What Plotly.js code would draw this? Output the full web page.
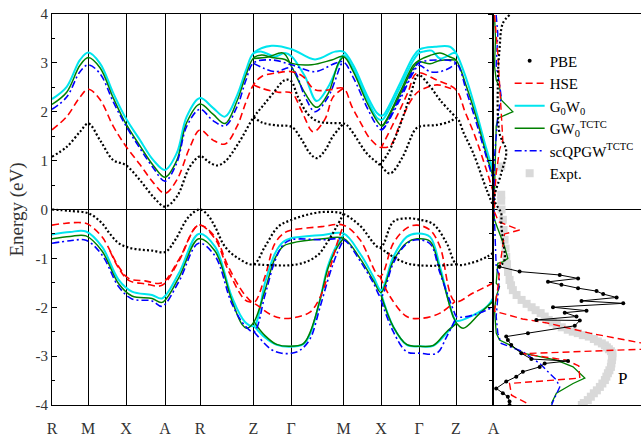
<!DOCTYPE html>
<html><head><meta charset="utf-8">
<script src="https://cdn.plot.ly/plotly-3.0.1.min.js"></script>
<style>html,body{margin:0;padding:0;background:#fff}#chart{width:641px;height:440px}</style>
</head><body><div id="chart"></div><script>
// ---- k-path ticks ----
const kTicks = [0, 36, 74, 113, 148, 201.5, 239, 291.5, 329, 367, 404, 441.5];
const kLabels = ['R','M','X','A','R','Z','Γ','M','X','Γ','Z','A'];
const eTicks = [-4,-3,-2,-1,0,1,2,3,4];
const eLabels = ['-4','-3','-2','-1','0','1','2','3','4'];

// ---- PBE bands ----
const pbeC1k = [0,14.7,28,36.3,48,61.3,73.7,88,101.3,113,124.7,138,148.3,156.3,164.7,173,186.3,201.7,210,220,233,239,246,256,266,278,291.5,294.7,301.3,314.7,328,338,350,363,368,385,398,404.7,412,421.3,434.7,441.5];
const pbeC1e = [1.08,1.28,1.59,1.76,1.42,1.01,0.91,0.60,0.26,0.06,0.26,0.88,1.09,0.98,0.90,0.98,1.35,1.89,2.10,2.35,2.65,2.63,2.30,1.95,1.80,1.77,1.76,1.73,1.56,1.15,0.91,0.74,1.05,1.63,1.70,1.73,1.80,1.87,1.55,1.15,0.40,0.06];
const pbeC2k = [201.7,210,225,239.7,249,258,264.7,272.7,281,291.5,null,328,336,346.3,358,366.3,377,388,404.7];
const pbeC2e = [1.89,1.78,1.72,1.69,1.45,1.15,1.05,1.20,1.50,1.76,null,0.91,1.15,1.63,2.31,2.75,2.55,2.24,1.87];
const pbeV1k = [0,18,36.7,50,58,66.7,76.7,88,100,113.3,123.3,136.7,148,156,163,173,186.3,201.7,213,226.3,239.7,253,266.3,280,291.5,308,328,341.3,354.7,368,381.3,394.7,404.7,418,434.7,441.5];
const pbeV1e = [0,-0.03,-0.08,-0.28,-0.5,-0.69,-0.78,-0.82,-0.84,-0.87,-0.62,-0.15,0,-0.12,-0.35,-0.76,-1.0,-1.12,-0.76,-0.35,-0.21,-0.12,-0.06,-0.05,-0.09,-0.33,-0.78,-0.25,-0.18,-0.21,-0.30,-0.69,-1.12,-1.10,-0.97,-0.88];
const pbeV2k = [201.7,220,238,253,266,275,284.7,291.5,null,328,341.3,354.7,366,385,404.7];
const pbeV2e = [-1.12,-1.14,-1.14,-1.08,-0.93,-0.68,-0.35,-0.09,null,-0.78,-0.97,-1.10,-1.14,-1.15,-1.12];

// ---- HSE bands ----
const hseC1k = [0,14.7,28,36.3,48,61.3,73.7,88,101.3,113,124.7,138,148,161,173,185,194,201.5,209.7,226,239.7,251,263,278,291.5,300,308,318,329,331.3,344.7,356,364.7,384.7,404,413,423,433,441.5];
const hseC1e = [1.63,1.9,2.3,2.46,2.25,1.7,1.3,0.92,0.55,0.33,0.6,1.28,1.63,1.42,1.34,1.7,2.2,2.55,2.72,2.8,2.82,2.72,2.45,2.45,2.48,2.1,1.8,1.45,1.27,1.35,1.9,2.4,2.79,2.65,2.45,2.0,1.5,0.9,0.34];
const hseC2k = [201.5,209.7,226,239.7,250,261.3,273,281,291.5,null,329,338,348,358,366.3,384.7,398,404];
const hseC2e = [2.55,2.48,2.4,2.38,2.0,1.59,1.85,2.3,2.48,null,1.27,1.3,1.75,2.2,2.41,2.55,2.48,2.45];
const hseV1k = [0,14,30,36,50,66.7,76.7,93,110,126.7,146.7,163,176.3,193,202,213,223,233,239.7,269.7,291.5,308,328,341.3,354.7,365,378,388,403,421,441.5];
const hseV1e = [-0.32,-0.28,-0.27,-0.3,-0.56,-1.17,-1.41,-1.46,-1.50,-1.03,-0.32,-0.56,-1.17,-1.75,-1.9,-1.37,-0.69,-0.47,-0.42,-0.35,-0.32,-0.62,-1.37,-0.69,-0.38,-0.32,-0.42,-0.76,-1.88,-1.71,-1.5];
const hseV2k = [58,66.7,76.7,93,110,126.7,146.7,163,176.3,193,202,219.7,232,245,258,268,278,285,291.5,null,328,338,354.7,368,388,403];
const hseV2e = [-0.85,-1.2,-1.45,-1.52,-1.55,-1.06,-0.32,-0.6,-1.25,-1.85,-1.92,-2.16,-2.23,-2.2,-2.1,-1.8,-1.2,-0.7,-0.32,null,-1.37,-1.78,-2.19,-2.23,-2.12,-1.88];

// ---- G0W0 bands ----
const g0w0C1k = [0,14.7,28,36.3,48,61.3,73.7,88,101.3,113,124.7,134.7,148,161,173,185,194,201.5,219.7,239.7,263,283,291.5,301.3,314.7,324.7,329,331.3,348,361.3,368,383,398,404,414.7,424.7,434.7,441.5];
const g0w0C1e = [2.26,2.51,3.06,3.21,2.99,2.38,1.87,1.42,1.01,0.81,1.15,1.90,2.28,2.08,1.9,2.33,2.85,3.2,3.35,3.28,3.07,3.23,3.23,2.95,2.35,1.98,1.92,1.93,2.58,3.13,3.28,3.33,3.33,3.2,2.65,1.97,1.22,0.78];
const g0w0C2k = [201.5,209.7,223,233,239.7,253,264.7,276,286,291.5,301.3,314.7,324.7,329,331.3,348,361.3,367,371.3,379.7,388,401.3,404];
const g0w0C2e = [3.2,3.23,3.13,3.2,3.13,2.72,2.22,2.5,2.95,3.16,2.88,2.28,1.88,1.83,1.85,2.5,3.05,3.2,3.23,3.25,3.09,3.2,3.2];
const g0w0V1k = [0,18,34,50,66.7,80,100,110,126.7,146.7,163,179.7,193,202,213,223,231.3,239,271,291.5,308,321.3,329,341.3,354.7,365,378,388,401.3,404.7,421.3,434.7,441.5];
const g0w0V1e = [-0.51,-0.46,-0.45,-0.76,-1.44,-1.68,-1.75,-1.82,-1.31,-0.50,-0.76,-1.78,-2.30,-2.38,-1.5,-0.9,-0.66,-0.59,-0.52,-0.49,-0.9,-1.37,-1.65,-0.97,-0.56,-0.49,-0.56,-1.17,-2.19,-2.28,-2.16,-1.99,-1.80];
const g0w0V2k = [202,213,224.7,238,251,258,268,276,285,291.5,null,329,341.3,354.7,368,381.3,394.7,404.7];
const g0w0V2e = [-2.38,-2.62,-2.77,-2.81,-2.76,-2.55,-1.85,-1.15,-0.72,-0.52,null,-1.71,-2.40,-2.77,-2.80,-2.79,-2.53,-2.28];

// ---- GW0 TCTC bands ----
const gw0C1k = [0,14.7,28,36.3,48,61.3,73.7,88,101.3,113,124.7,134.7,148,161,173,185,194,201.5,209.7,219.7,233,239.7,259.7,279.7,291.5,301.3,314.7,324.7,329,331.3,348,361.3,367,378,388,398,404,414.7,424.7,434.7,441.5];
const gw0C1e = [2.15,2.4,2.95,3.11,2.9,2.28,1.76,1.3,0.9,0.66,1.0,1.78,2.16,1.95,1.76,2.22,2.75,3.1,3.16,3.11,3.07,2.99,2.96,3.06,3.13,2.82,2.2,1.82,1.72,1.74,2.4,2.95,3.05,3.15,3.2,3.12,3.06,2.5,1.85,1.1,0.65];
const gw0C2k = [201.5,216,231.3,239.7,253,264.7,276.3,286.3,291.5,null,329,331.3,348,361.3,367,378,388,404];
const gw0C2e = [3.09,3.12,3.2,2.92,2.38,2.09,2.38,2.99,3.13,null,1.70,1.72,2.35,2.9,3.02,2.98,3.05,3.06];
const gw0V1k = [0,18,34,50,66.7,80,100,110,126.7,146.7,163,179.7,190,195,202,213,223,231.3,239,271,291.5,308,321.3,329,341.3,354.7,365,378,388,401.3,404.7,411.3,428,441.5];
const gw0V1e = [-0.60,-0.55,-0.54,-0.85,-1.52,-1.77,-1.82,-1.90,-1.40,-0.60,-0.85,-1.85,-2.35,-2.43,-2.3,-1.65,-1.0,-0.75,-0.69,-0.60,-0.59,-1.0,-1.45,-1.70,-1.05,-0.68,-0.60,-0.65,-1.25,-2.2,-2.33,-2.43,-2.12,-1.87];
const gw0V2k = [202,213,224.7,238,251,258,268,276,285,291.5,null,329,341.3,354.7,368,381.3,394.7,404.7];
const gw0V2e = [-2.30,-2.58,-2.76,-2.80,-2.75,-2.52,-1.85,-1.2,-0.78,-0.59,null,-1.75,-2.40,-2.76,-2.80,-2.78,-2.50,-2.33];

// ---- scQPGW TCTC bands ----
const qpC1k = [0,14.7,28,36.3,48,61.3,73.7,88,101.3,113,124.7,134.7,148,161,173,185,194,201.5,219.7,239.7,263,283,291.5,301.3,314.7,324.7,329,331.3,348,361.3,367,388,404,414.7,424.7,434.7,441.5];
const qpC1e = [2.05,2.3,2.82,2.96,2.78,2.2,1.72,1.25,0.85,0.58,0.95,1.7,2.05,1.82,1.71,2.1,2.65,3.0,3.06,2.96,2.82,2.99,3.02,2.7,2.1,1.72,1.63,1.66,2.3,2.85,3.0,3.06,3.0,2.4,1.75,1.05,0.58];
const qpC2k = [201.5,223,239.7,253,263,276.3,289.7,291.5,null,329,331.3,348,361.3,367,378,388,398,404];
const qpC2e = [2.99,2.82,2.89,2.31,2.0,2.31,2.99,3.02,null,1.63,1.65,2.25,2.8,2.95,2.82,2.82,2.9,3.0];
const qpV1k = [0,18,34,50,66.7,80,100,110,126.7,146.7,163,179.7,193,202,213,223,231.3,239,271,291.5,308,321.3,329,341.3,354.7,365,378,388,401.3,404.7,421.3,441.5];
const qpV1e = [-0.69,-0.64,-0.63,-0.93,-1.58,-1.83,-1.87,-1.98,-1.48,-0.69,-0.95,-1.92,-2.38,-2.5,-1.75,-1.05,-0.72,-0.62,-0.62,-0.62,-1.05,-1.5,-1.78,-1.1,-0.7,-0.62,-0.7,-1.3,-2.05,-2.19,-2.16,-1.99];
const qpV2k = [202,219.7,229.7,239.7,248,258,268,278,285,291.5,null,329,341.3,354.7,368,384.7,394.7,404.7];
const qpV2e = [-2.5,-2.87,-2.94,-2.94,-2.88,-2.65,-2.0,-1.3,-0.9,-0.62,null,-1.85,-2.5,-2.91,-2.94,-2.94,-2.6,-2.19];

// ---- DOS (x: DOS value, y: energy) ----
const dosPbeTopE = [3.98,3.81,3.28,2.58,1.56,1.20,0.74,0.20,-0.08,-0.28,-0.62,-1.03,-1.17];
const dosPbeTopD = [16,9.3,6,4.3,6,12.7,7.7,1,7.7,7.7,9.3,11,6];
const dosPbeE = [-1.17,-1.27,-1.34,-1.41,-1.48,-1.54,-1.61,-1.67,-1.73,-1.80,-1.87,-1.92,-2.00,-2.07,-2.11,-2.19,-2.26,-2.27,-2.38,-2.53,-2.60,-2.67,-2.77,-2.94,-3.06,-3.10,-3.15,-3.22,-3.32,-3.42,-3.52,-3.66,-3.76,-3.83,-3.93,-4.0];
const dosPbeD = [6,26,66,84.3,54.3,67.7,84.3,102.7,109.3,122.7,87.7,129.3,59.3,92.7,71,82.7,42.7,86,81,34.3,12.7,14.3,17.7,27.7,37.7,74.3,51,46,29.3,22.7,12.7,2.7,9.3,14.3,16,16];
const dosHseE = [3.98,3.6,3.2,2.58,2.04,1.63,1.42,1.22,0.74,0.26,-0.05,-0.25,-0.42,-0.5,-0.8,-1.2,-1.5,-1.8,-2.08,-2.24,-2.32,-2.53,-2.66,-2.74,-2.80,-2.86,-2.91,-2.95,-3.08,-3.2,-3.45,-3.56,-3.8,-3.98];
const dosHseD = [1,2.7,4.3,6,7.7,8.7,9.3,6,2.7,1,1,5,26,11,9,6,5,3,1,29,53,96,130,147,165,147,79,29,72,85,86,16,18,35];
const dosGw0E = [3.98,3.5,2.94,2.65,2.51,2.24,2.0,1.87,1.70,1.22,0.5,0.0,-0.21,-0.49,-0.76,-1.0,-1.07,-1.10,-1.51,-1.58,-1.78,-2.05,-2.53,-2.67,-2.77,-2.94,-3.08,-3.22,-3.45,-3.56,-3.76,-3.97];
const dosGw0D = [1,2,1,2.7,6,7.7,19.3,4.3,2.7,2,1,0.5,1,6,11,14.3,9.3,4.3,2.7,6,2.7,1,2.7,6,16,29.3,62.7,79.3,91,79.3,62.7,57.7];
const dosQpE = [3.98,3.6,2.94,2.58,2.3,1.9,1.07,0.3,0.0,-0.21,-1.17,-1.37,-1.85,-2.19,-2.53,-2.74,-2.91,-3.15,-3.49,-3.63,-3.93,-4.0];
const dosQpD = [2.7,4.3,2.7,6,7.7,4.3,1,0.5,0.5,1,2.7,6,4.3,2.7,4.3,7.7,29.3,46,62.7,66,59.3,58];
const exptE = [0.88,0.30,0.18,0.0,-0.21,-0.42,-0.62,-0.8,-0.97,-1.12,-1.28,-1.44,-1.55,-1.65,-1.75,-1.85,-1.93,-2.0,-2.06,-2.12,-2.19,-2.26,-2.31,-2.36,-2.41,-2.46,-2.50,-2.53,-2.57,-2.60,-2.65,-2.70,-2.74,-2.78,-2.82,-2.86,-2.90,-2.94,-3.01,-3.08,-3.15,-3.22,-3.29,-3.35,-3.42,-3.49,-3.56,-3.63,-3.70,-3.76,-3.83,-3.90,-3.96,-4.0];
const exptD = [7.7,7.7,7.7,8,9.3,10,11,12,12.7,13.5,14.5,16,17.5,19.3,23,28,33,38,42,47,51,55,59,63,68,74,79,84,89,95,100,104,108,111,113,115,117,118.5,118.5,118,117.5,117,115.5,114,112.5,111,108.5,106,103,100,97,94,90,88];

const SERIF = 'Liberation Serif, Times New Roman, serif';
const C = {pbe:'#000000', hse:'#ff0000', g0w0:'#00e5ee', gw0:'#008000', qp:'#0000ff', expt:'#d9d9d9'};
const S = {
  pbe:{color:C.pbe,width:2.2,dash:'2px,2.2px'},
  hse:{color:C.hse,width:1.6,dash:'7px,4px'},
  g0w0:{color:C.g0w0,width:2},
  gw0:{color:C.gw0,width:1.5},
  qp:{color:C.qp,width:1.6,dash:'7px,3px,2px,3px'}
};
function band(k, e, st, grp) {
  return {type:'scatter', mode:'lines', x:k, y:e, xaxis:'x', yaxis:'y',
    line:Object.assign({shape:'spline', smoothing:1}, st),
    showlegend:false, legendgroup:grp, hoverinfo:'skip', connectgaps:false};
}
function dos(d, e, st, grp, mode, marker) {
  const t = {type:'scatter', mode:mode||'lines', x:d, y:e, xaxis:'x2', yaxis:'y2',
    line:Object.assign({}, st), showlegend:false, legendgroup:grp, hoverinfo:'skip', cliponaxis:true};
  if (marker) t.marker = marker;
  return t;
}
const traces = [];
// experiment (bottom layer)
traces.push({type:'scatter', mode:'markers', x:exptD, y:exptE, xaxis:'x2', yaxis:'y2',
  marker:{symbol:'square', size:8, color:C.expt}, name:'Expt.', showlegend:true, legendrank:6, hoverinfo:'skip'});
// bands
[[g0w0C1k,g0w0C1e],[g0w0C2k,g0w0C2e],[g0w0V1k,g0w0V1e],[g0w0V2k,g0w0V2e]].forEach(p=>traces.push(band(p[0],p[1],S.g0w0,'g0w0')));
[[gw0C1k,gw0C1e],[gw0C2k,gw0C2e],[gw0V1k,gw0V1e],[gw0V2k,gw0V2e]].forEach(p=>traces.push(band(p[0],p[1],S.gw0,'gw0')));
[[qpC1k,qpC1e],[qpC2k,qpC2e],[qpV1k,qpV1e],[qpV2k,qpV2e]].forEach(p=>traces.push(band(p[0],p[1],S.qp,'qp')));
[[hseC1k,hseC1e],[hseC2k,hseC2e],[hseV1k,hseV1e],[hseV2k,hseV2e]].forEach(p=>traces.push(band(p[0],p[1],S.hse,'hse')));
[[pbeC1k,pbeC1e],[pbeC2k,pbeC2e],[pbeV1k,pbeV1e],[pbeV2k,pbeV2e]].forEach(p=>traces.push(band(p[0],p[1],S.pbe,'pbe')));
// DOS
traces.push(dos(dosGw0D, dosGw0E, {color:C.gw0,width:1.3}, 'gw0'));
traces.push(dos(dosQpD, dosQpE, {color:C.qp,width:1.4,dash:'7px,3px,2px,3px'}, 'qp'));
traces.push(dos(dosHseD, dosHseE, {color:C.hse,width:1.4,dash:'7px,4px'}, 'hse'));
traces.push(dos(dosPbeTopD, dosPbeTopE, {color:C.pbe,width:2.2,dash:'2px,2.2px',shape:'spline'}, 'pbe'));
traces.push(dos(dosPbeD, dosPbeE, {color:C.pbe,width:1}, 'pbe', 'lines+markers', {size:4,color:C.pbe}));
// legend entries
traces.push({type:'scatter', mode:'markers', x:[null], y:[null], xaxis:'x2', yaxis:'y2', marker:{size:4,color:C.pbe}, name:'PBE', showlegend:true, legendrank:1, hoverinfo:'skip'});
traces.push({type:'scatter', mode:'lines', x:[null], y:[null], xaxis:'x2', yaxis:'y2', line:{color:C.hse,width:1.6,dash:'7px,4px'}, name:'HSE', showlegend:true, legendrank:2, hoverinfo:'skip'});
traces.push({type:'scatter', mode:'lines', x:[null], y:[null], xaxis:'x2', yaxis:'y2', line:{color:C.g0w0,width:2}, name:'G<sub>0</sub>W<sub>0</sub>', showlegend:true, legendrank:3, hoverinfo:'skip'});
traces.push({type:'scatter', mode:'lines', x:[null], y:[null], xaxis:'x2', yaxis:'y2', line:{color:C.gw0,width:1.5}, name:'GW<sub>0</sub><sup>TCTC</sup>', showlegend:true, legendrank:4, hoverinfo:'skip'});
traces.push({type:'scatter', mode:'lines', x:[null], y:[null], xaxis:'x2', yaxis:'y2', line:{color:C.qp,width:1.6,dash:'7px,3px,2px,3px'}, name:'scQPGW<sup>TCTC</sup>', showlegend:true, legendrank:5, hoverinfo:'skip'});

const split = 441.5/589;
const layout = {
  width:641, height:440, margin:{l:52, r:0, t:14, b:35},
  paper_bgcolor:'#fff', plot_bgcolor:'rgba(0,0,0,0)',
  font:{family:SERIF, color:'#000'},
  showlegend:true, hovermode:false,
  legend:{x:0.777, y:0.922, xanchor:'left', yanchor:'top', bgcolor:'rgba(0,0,0,0)',
    font:{family:SERIF, size:15, color:'#000'}, tracegroupgap:0, itemwidth:30, traceorder:'normal'},
  xaxis:{domain:[0, split], range:[0, 441.5], tickmode:'array', tickvals:kTicks, ticktext:kLabels,
    showgrid:true, gridcolor:'#000', gridwidth:1, zeroline:false, showline:true, linecolor:'#000', linewidth:1, mirror:true,
    ticks:'outside', ticklen:9, tickcolor:'rgba(0,0,0,0)', tickfont:{family:SERIF, size:16, color:'#333'}, fixedrange:true},
  yaxis:{domain:[0,1], range:[-4,4], tickmode:'array', tickvals:eTicks, ticktext:eLabels,
    ticks:'inside', ticklen:5, tickcolor:'#000', tickwidth:1,
    minor:{tickmode:'linear', tick0:0, dtick:0.5, ticks:'inside', ticklen:3, tickcolor:'#000', showgrid:false},
    showgrid:false, zeroline:true, zerolinecolor:'#000', zerolinewidth:1, showline:true, linecolor:'#000', linewidth:1,
    tickfont:{family:SERIF, size:15, color:'#333'},
    title:{text:'Energy (eV)', font:{family:SERIF, size:19, color:'#333'}, standoff:6}, fixedrange:true},
  xaxis2:{domain:[split,1], range:[0,147], anchor:'y2', showticklabels:false, ticks:'', showgrid:false, zeroline:false,
    showline:true, linecolor:'#000', linewidth:1, mirror:true, fixedrange:true},
  yaxis2:{domain:[0,1], range:[-4,4], anchor:'x2', tickmode:'array', tickvals:eTicks, showticklabels:false,
    ticks:'outside', ticklen:4, tickcolor:'#000',
    minor:{tickmode:'linear', tick0:0, dtick:0.5, ticks:'outside', ticklen:3, tickcolor:'#000'},
    showgrid:false, zeroline:true, zerolinecolor:'#000', zerolinewidth:1, showline:true, linecolor:'#000', linewidth:2, fixedrange:true},
  yaxis3:{overlaying:'y2', anchor:'x2', side:'left', range:[-4,4], tickmode:'array', tickvals:eTicks, showticklabels:false,
    ticks:'inside', ticklen:4, tickcolor:'#000',
    minor:{tickmode:'linear', tick0:0, dtick:0.5, ticks:'inside', ticklen:3, tickcolor:'#000'},
    showgrid:false, zeroline:false, showline:false, fixedrange:true},
  yaxis4:{overlaying:'y2', anchor:'x2', side:'right', range:[-4,4], tickmode:'array', tickvals:eTicks, showticklabels:false,
    ticks:'inside', ticklen:5, tickcolor:'#000', showgrid:false, zeroline:false, showline:false, fixedrange:true},
  annotations:[{xref:'x2', yref:'y2', x:129, y:-3.45, text:'P', showarrow:false, font:{family:SERIF, size:17, color:'#000'}}]
};
Plotly.newPlot('chart', traces, layout, {displayModeBar:false, staticPlot:true});
</script></body></html>
